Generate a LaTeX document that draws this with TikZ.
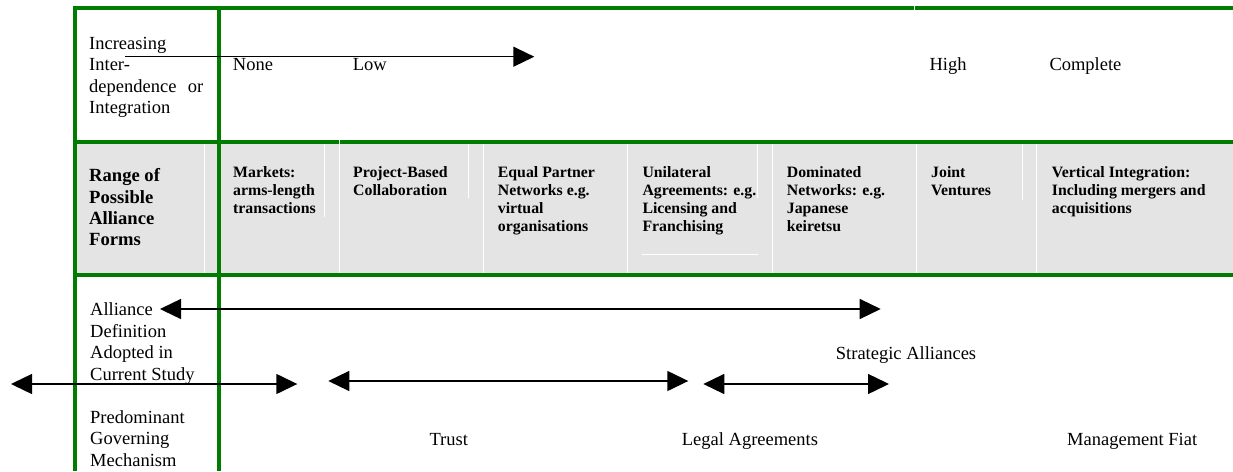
\documentclass[tikz,border=0pt]{standalone}
\usepackage{fontspec}
\setmainfont{Liberation Serif}
\usetikzlibrary{arrows.meta}
\definecolor{vert}{RGB}{0,125,0}
\definecolor{gris}{RGB}{228,228,228}
\newcommand{\lignes}[1]{\begin{tabular}[t]{@{}l@{}}#1\end{tabular}}

\begin{document}
\begin{tikzpicture}[x=1pt,y=-1pt]
	% définition des styles
	\tikzstyle{texte}=[inner sep=0pt,anchor=base west,font=\fontsize{18.5}{21.6}\selectfont]
	\tikzstyle{entete}=[texte,font=\bfseries\fontsize{18.6}{21.3}\selectfont]
	\tikzstyle{forme}=[texte,font=\bfseries\fontsize{15.8}{18.2}\selectfont]
	\tikzstyle{bord}=[draw=vert,line width=4pt]
	\tikzstyle{filet}=[white,line width=0.8pt]
	\tikzstyle{fleche}=[line width=1.4pt,>={Triangle[length=21pt,width=20pt]}]
	\useasboundingbox (0,0) rectangle (1233,471);
	% le fond gris
	\fill[gris] (74,142) rectangle (1233,275);
	\foreach \x in {204,339,483,627.7,772,916.7,1036.7}
		\draw[filet] (\x,144) -- (\x,273);
	\foreach \x/\y in {324/217,468/198,757.7/198,1022.7/200}
		\draw[filet] (\x,144) -- (\x,\y);
	\draw[filet] (642,254) -- (757.7,254);
	% les bords
	\draw[bord] (72.5,8) -- (913.5,8);
	\draw[bord] (915,8) -- (1233,8);
	\draw[bord] (72.5,142) -- (338.5,142);
	\draw[bord] (340,142) -- (1233,142);
	\draw[bord] (72.5,274.7) -- (1233,274.7);
	\draw[bord] (74.5,6) -- (74.5,471);
	\draw[bord] (218.5,6) -- (218.5,471);
	% les nœuds
	\node[texte] (croiss) at (89,49) {\lignes{Increasing\\Inter-\\\makebox[114pt][s]{dependence or}\\Integration}};
	\node[texte] (aucune) at (232.7,70) {None};
	\node[texte] (faible) at (352.7,70) {Low};
	\node[texte] (haute) at (929.3,70) {High};
	\node[texte] (totale) at (1049.3,70) {Complete};
	\node[entete] (formes) at (89,181.7) {\lignes{Range of\\Possible\\Alliance\\Forms}};
	\node[forme] (marche) at (233,177) {\lignes{Markets:\\arms-length\\transactions}};
	\node[forme] (projet) at (353,177) {\lignes{Project-Based\\Collaboration}};
	\node[forme] (egal) at (497.7,177) {\lignes{Equal Partner\\Networks e.g.\\virtual\\organisations}};
	\node[forme] (unil) at (642.3,177) {\lignes{Unilateral\\Agreements: e.g.\\Licensing and\\Franchising}};
	\node[forme] (domin) at (786.7,177) {\lignes{Dominated\\Networks: e.g.\\Japanese\\keiretsu}};
	\node[forme] (joint) at (931,177) {\lignes{Joint\\Ventures}};
	\node[forme] (vertic) at (1051.7,177) {\lignes{Vertical Integration:\\Including mergers and\\acquisitions}};
	\node[texte] (defin) at (90,315.7) {\lignes{Alliance\\Definition\\Adopted in\\Current Study}};
	\node[texte] (gouv) at (90,423.3) {\lignes{Predominant\\Governing\\Mechanism}};
	\node[texte] (strat) at (835.7,359) {Strategic Alliances};
	\node[texte] (confiance) at (429.3,445) {Trust};
	\node[texte] (legal) at (681.7,445) {Legal Agreements};
	\node[texte] (fiat) at (1067,445) {Management Fiat};
	% les extrémités des flèches
	\coordinate (i0) at (125,56.7);
	\coordinate (i1) at (534.3,56.7);
	\coordinate (a0) at (160,309);
	\coordinate (a1) at (880.7,309);
	\coordinate (b0) at (11,384);
	\coordinate (b1) at (297.3,384);
	\coordinate (c0) at (328.3,381);
	\coordinate (c1) at (688.3,381);
	\coordinate (d0) at (703.3,384);
	\coordinate (d1) at (889,384);
	% les flèches
	\draw[fleche,->] (i0) -- (i1);
	\draw[fleche,<->] (a0) -- (a1);
	\draw[fleche,<->] (b0) -- (b1);
	\draw[fleche,<->] (c0) -- (c1);
	\draw[fleche,<->] (d0) -- (d1);
\end{tikzpicture}
\end{document}
